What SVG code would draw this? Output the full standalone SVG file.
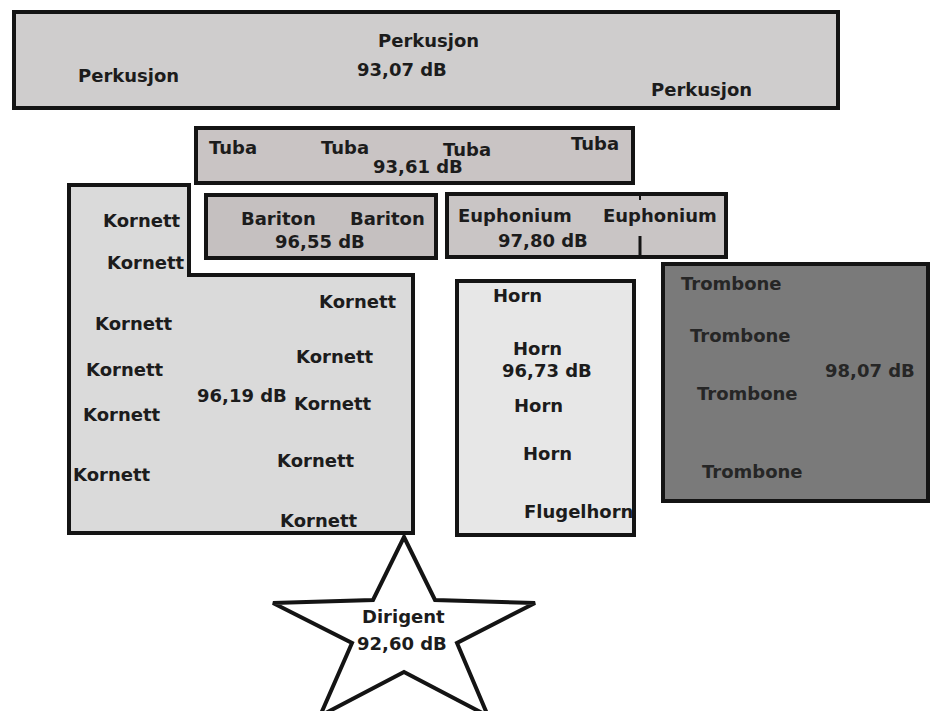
<svg xmlns="http://www.w3.org/2000/svg" width="933" height="711" viewBox="0 0 933 711">
<style>
.box{stroke:#141414;stroke-width:4;stroke-linejoin:miter}
text{font-family:"DejaVu Sans",Verdana,sans-serif;font-weight:bold;font-size:18px;fill:#1c1c1c}
.tr{fill:#262626;font-weight:bold}
</style>
<rect width="933" height="711" fill="#ffffff"/>
<g id="perkusjon">
<rect class="box" x="14" y="12" width="824" height="96" fill="#cfcdcd"/>
<text x="78" y="82">Perkusjon</text>
<text x="378" y="47">Perkusjon</text>
<text x="357" y="76">93,07 dB</text>
<text x="651" y="96">Perkusjon</text>
</g>
<g id="tuba">
<rect class="box" x="196" y="128" width="437" height="55" fill="#c9c4c4"/>
<text x="209" y="154">Tuba</text>
<text x="321" y="154">Tuba</text>
<text x="443" y="156">Tuba</text>
<text x="571" y="150">Tuba</text>
<text x="373" y="173">93,61 dB</text>
</g>
<g id="kornett">
<polygon class="box" points="69,185 189,185 189,275 413,275 413,533 69,533" fill="#dadada"/>
<text x="103" y="227">Kornett</text>
<text x="107" y="269">Kornett</text>
<text x="319" y="308">Kornett</text>
<text x="95" y="330">Kornett</text>
<text x="296" y="363">Kornett</text>
<text x="86" y="376">Kornett</text>
<text x="197" y="402">96,19 dB</text>
<text x="294" y="410">Kornett</text>
<text x="83" y="421">Kornett</text>
<text x="277" y="467">Kornett</text>
<text x="73" y="481">Kornett</text>
<text x="280" y="527">Kornett</text>
</g>
<g id="bariton">
<rect class="box" x="206" y="195" width="230" height="63" fill="#c5c0c0"/>
<text x="241" y="225">Bariton</text>
<text x="350" y="225">Bariton</text>
<text x="275" y="248">96,55 dB</text>
</g>
<g id="euphonium">
<rect class="box" x="447" y="194" width="279" height="63" fill="#c9c5c5"/>
<line x1="640" y1="194" x2="640" y2="200" stroke="#141414" stroke-width="2"/>
<line x1="640" y1="236" x2="640" y2="257" stroke="#141414" stroke-width="3"/>
<text x="458" y="222">Euphonium</text>
<text x="603" y="222">Euphonium</text>
<text x="498" y="247">97,80 dB</text>
</g>
<g id="horn">
<rect class="box" x="457" y="281" width="177" height="254" fill="#e7e7e7"/>
<text x="493" y="302">Horn</text>
<text x="513" y="355">Horn</text>
<text x="502" y="377">96,73 dB</text>
<text x="514" y="412">Horn</text>
<text x="523" y="460">Horn</text>
<text x="524" y="518">Flugelhorn</text>
</g>
<g id="trombone">
<rect class="box" x="663" y="264" width="265" height="237" fill="#7a7a7a"/>
<text class="tr" x="681" y="290">Trombone</text>
<text class="tr" x="690" y="342">Trombone</text>
<text class="tr" x="825" y="377">98,07 dB</text>
<text class="tr" x="697" y="400">Trombone</text>
<text class="tr" x="702" y="478">Trombone</text>
</g>
<g id="dirigent">
<polygon class="box" points="404,537 435,600 535,603 457,643 488,716 404,672 320,716 352,643 273,603 373,600" fill="#ffffff"/>
<text x="362" y="623">Dirigent</text>
<text x="357" y="650">92,60 dB</text>
</g>
</svg>
